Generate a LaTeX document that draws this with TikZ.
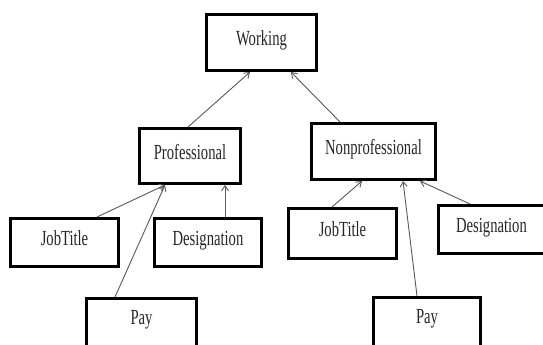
\documentclass[tikz,border=0pt]{standalone}
\usepackage{fontspec}
\setmainfont{Liberation Serif}
\usetikzlibrary{arrows.meta}
\newcommand{\sq}[1]{\scalebox{0.68}[1]{#1}}
\begin{document}
\begin{tikzpicture}[x=1pt,y=-1pt,
  box/.style={draw=black, line width=3pt, fill=white, inner sep=0pt,
    font=\fontsize{21.5}{21.5}\selectfont, text=black!85,
    text height=13pt, text depth=7pt},
  arr/.style={draw=black!65, line width=0.9pt, -{Straight Barb[length=5pt,width=7pt]}}]
\useasboundingbox (0,0) rectangle (543,345);
\clip (0,0) rectangle (543,345);
\fill[white] (0,0) rectangle (543,345);
% top
\node[box, minimum width=110pt, minimum height=56pt] (work) at (261.5,42.5) {\sq{Working}};
% middle
\node[box, minimum width=101pt, minimum height=55pt] (prof) at (190,156) {\sq{Professional}};
\node[box, minimum width=124pt, minimum height=56pt] (nonp) at (373.5,151.5) {\sq{Nonprofessional}};
% left children
\node[box, minimum width=108pt, minimum height=48pt] (jobl) at (64.5,242.5) {\sq{JobTitle}};
\node[box, minimum width=107pt, minimum height=48pt] (desl) at (208,242.5) {\sq{Designation}};
\node[box, minimum width=110pt, text height=26pt, text depth=30pt] (payl) at (141.5,326.5) {\sq{Pay}};
% right children
\node[box, minimum width=108pt, minimum height=50pt] (jobr) at (342.5,233.5) {\sq{JobTitle}};
\node[box, minimum width=107pt, minimum height=48pt] (desr) at (491.5,229.5) {\sq{Designation}};
\node[box, minimum width=107pt, text height=26pt, text depth=30pt] (payr) at (427,325.5) {\sq{Pay}};
% connectors
\draw[arr] ([xshift=-2pt]prof.north) -- ([xshift=-11.5pt]work.south);
\draw[arr] ([xshift=-33.5pt]nonp.north) -- ([xshift=29.5pt]work.south);
\draw[arr] ([xshift=32.5pt]jobl.north) -- ([xshift=-25pt]prof.south);
\draw[arr] ([xshift=-26.5pt]payl.north) -- ([xshift=-25pt]prof.south);
\draw[arr] ([xshift=17pt]desl.north) -- ([xshift=35pt]prof.south);
\draw[arr] ([xshift=-10.5pt]jobr.north) -- ([xshift=-11.5pt]nonp.south);
\draw[arr] ([xshift=-10pt]payr.north) -- ([xshift=29.5pt]nonp.south);
\draw[arr] ([xshift=-21.5pt]desr.north) -- ([xshift=46.5pt]nonp.south);
\end{tikzpicture}
\end{document}
